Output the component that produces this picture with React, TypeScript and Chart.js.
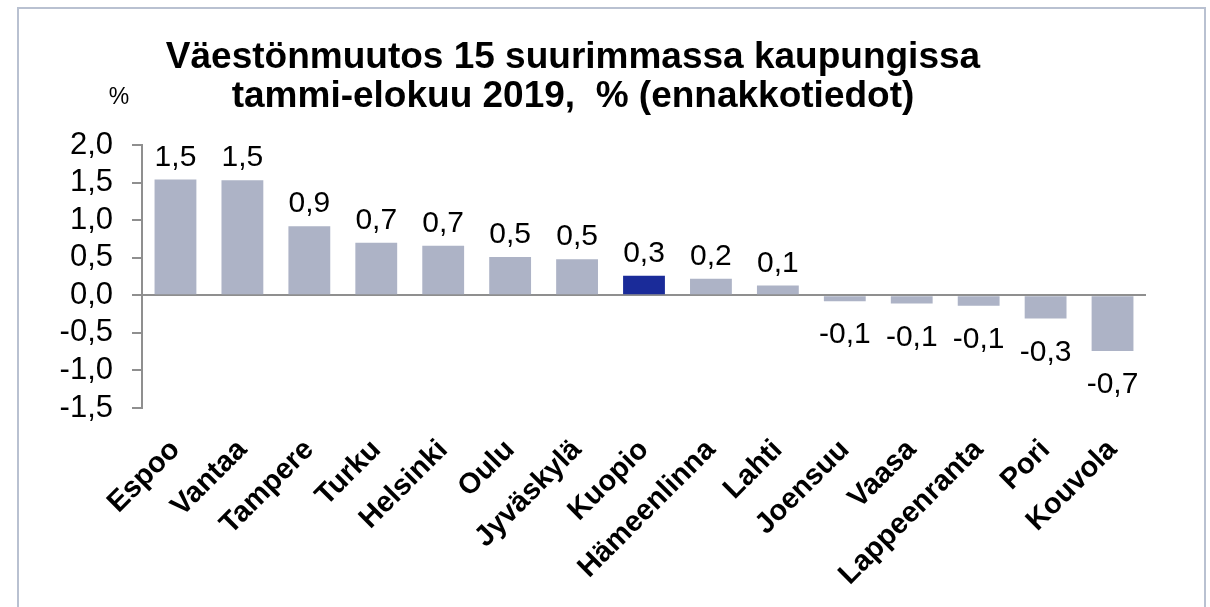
import React, { useEffect, useRef } from "react";
import { Chart, registerables } from "chart.js";

Chart.register(...registerables);

const titleLines = [
  "Väestönmuutos 15 suurimmassa kaupungissa",
  "tammi-elokuu 2019,  % (ennakkotiedot)",
];
const unitLabel = "%";
const cities = [
  "Espoo", "Vantaa", "Tampere", "Turku", "Helsinki", "Oulu", "Jyväskylä", "Kuopio",
  "Hämeenlinna", "Lahti", "Joensuu", "Vaasa", "Lappeenranta", "Pori", "Kouvola",
];
const changes = [1.54, 1.53, 0.92, 0.7, 0.66, 0.51, 0.48, 0.26, 0.22, 0.13, -0.08, -0.11, -0.14, -0.31, -0.74];
const highlightCity = "Kuopio";
const yMin = -1.5;
const yMax = 2.0;
const yStep = 0.5;

const FONT = "'Liberation Sans', Arial, sans-serif";
const BAR = "#adb3c6";
const BAR_HI = "#1a2b99";
const AXIS = "#8f8f8f";

const fmt = (v: number) => (Math.round(v * 10) / 10).toFixed(1).replace(".", ",").replace("-0,0", "0,0");

export default function App() {
  const ref = useRef<HTMLCanvasElement | null>(null);
  useEffect(() => {
    if (!ref.current) return;
    Chart.defaults.font.family = FONT;
    const framePlugin = {
      id: "frame",
      afterDraw(chart: any) {
        const ctx = chart.ctx;
        ctx.save();
        ctx.strokeStyle = "#b9c1d1";
        ctx.lineWidth = 2;
        ctx.strokeRect(18, 8, 1187, 700);
        ctx.fillStyle = "#000";
        ctx.font = `23px ${FONT}`;
        ctx.textAlign = "center";
        ctx.textBaseline = "alphabetic";
        ctx.fillText(unitLabel, 119, 104);
        ctx.restore();
      },
    };
    const labelPlugin = {
      id: "valueLabels",
      afterDatasetsDraw(chart: any) {
        const ctx = chart.ctx;
        const meta = chart.getDatasetMeta(0);
        const data = chart.data.datasets[0].data as number[];
        ctx.save();
        ctx.fillStyle = "#000";
        ctx.font = `30px ${FONT}`;
        ctx.textAlign = "center";
        ctx.textBaseline = "alphabetic";
        meta.data.forEach((el: any, i: number) => {
          const v = data[i];
          const y = v >= 0 ? el.y - 14 : el.y + 42;
          ctx.fillText(fmt(v), el.x, y);
        });
        ctx.restore();
      },
    };
    const chart = new Chart(ref.current, {
      type: "bar",
      data: {
        labels: cities,
        datasets: [
          {
            data: changes,
            backgroundColor: cities.map((c) => (c === highlightCity ? BAR_HI : BAR)),
            borderWidth: 0,
            barPercentage: 0.625,
            categoryPercentage: 1,
          },
        ],
      },
      options: {
        responsive: false,
        animation: false,
        devicePixelRatio: 1,
        layout: { padding: { top: 0, left: 0, right: 64, bottom: 0 } },
        plugins: {
          legend: { display: false },
          tooltip: { enabled: false },
          title: {
            display: true,
            text: titleLines,
            color: "#000",
            font: { family: FONT, size: 37, weight: "bold", lineHeight: 39 / 37 },
            padding: { top: 38, bottom: 29 },
          },
        },
        scales: {
          x: {
            grid: { display: false },
            border: { display: false },
            ticks: {
              color: "#000",
              font: { family: FONT, size: 29, weight: "bold" },
              minRotation: 45,
              maxRotation: 45,
              autoSkip: false,
              padding: 17,
            },
            afterFit: (s: any) => {
              s.height = 199;
            },
          },
          y: {
            min: yMin,
            max: yMax,
            ticks: {
              stepSize: yStep,
              autoSkip: false,
              color: "#000",
              font: { family: FONT, size: 31 },
              padding: 19,
              callback: (v: any) => fmt(Number(v)),
            },
            grid: {
              color: (c: any) => (c.tick && c.tick.value === 0 ? AXIS : "rgba(0,0,0,0)"),
              lineWidth: 2,
              tickColor: AXIS,
              tickLength: 10,
              drawTicks: true,
            },
            border: { display: true, color: AXIS, width: 2 },
            afterFit: (s: any) => {
              s.width = 142;
            },
          },
        },
      },
      plugins: [framePlugin, labelPlugin],
    } as any);
    return () => chart.destroy();
  }, []);
  return (
    <div style={{ position: "fixed", left: 0, top: 0, width: 1210, height: 607, background: "#fff" }}>
      <canvas ref={ref} width={1210} height={607} />
    </div>
  );
}
